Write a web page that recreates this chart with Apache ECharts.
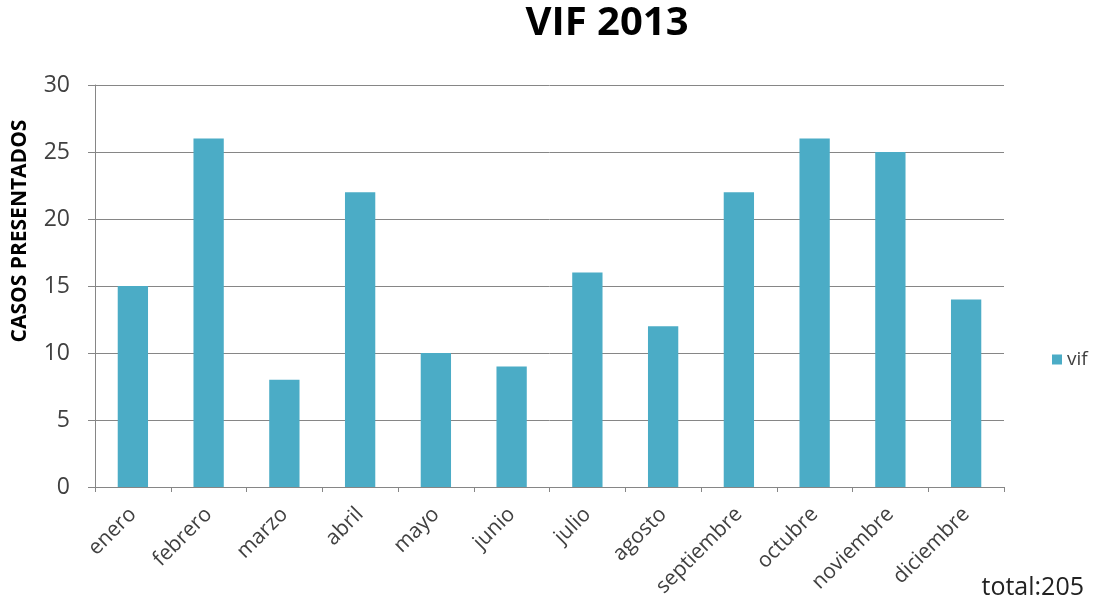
<!DOCTYPE html>
<html><head><meta charset="utf-8">
<script src="https://cdn.jsdelivr.net/npm/echarts@6/dist/echarts.min.js"></script>
<style>html,body{margin:0;padding:0;background:#fff}#c{width:1099px;height:609px}</style>
</head><body><div id="c"></div>
<script>
var categories = ['enero','febrero','marzo','abril','mayo','junio','julio','agosto','septiembre','octubre','noviembre','diciembre'];
var vifValues = [15,26,8,22,10,9,16,12,22,26,25,14];
var yTicks = [0,5,10,15,20,25,30];
var titleText = 'VIF 2013';
var yAxisTitle = 'CASOS PRESENTADOS';
var totalText = 'total:205';

var chart = echarts.init(document.getElementById('c'));
var font = '"Open Sans", "DejaVu Sans", sans-serif';
chart.setOption({
  animation: false,
  title: {text: titleText, left: 602, top: -1, textAlign: 'center',
    textStyle: {fontFamily: font, fontWeight: 'bold', fontSize: 40, color: '#000'}},
  legend: {data: ['vif'], left: 1052, top: 350, padding: 0, orient: 'vertical', icon: 'rect', itemWidth: 10, itemHeight: 10, itemGap: 4,
    textStyle: {fontFamily: font, fontSize: 19, color: '#404040'}},
  graphic: [
    {type: 'text', right: 15, bottom: 9, style: {text: totalText, fontFamily: font, fontSize: 25, fill: '#222'}},
    {type: 'text', x: 20, y: 231, rotation: Math.PI / 2,
      style: {text: yAxisTitle, fontFamily: font, fontWeight: 'bold', fontSize: 21, fill: '#000', align: 'center', verticalAlign: 'middle'}}
  ],
  grid: {left: 95, right: 95, top: 85, bottom: 122, containLabel: false},
  xAxis: {type: 'category', data: categories, boundaryGap: true,
    axisLine: {lineStyle: {color: '#868686'}},
    axisTick: {show: true, alignWithLabel: false, length: 5, lineStyle: {color: '#868686'}},
    axisLabel: {rotate: 45, fontFamily: font, fontSize: 21, color: '#404040', margin: 24, interval: 0}},
  yAxis: {type: 'value', min: 0, max: 30, interval: 5,
    axisLine: {show: true, lineStyle: {color: '#868686'}},
    axisTick: {show: true, length: 7, lineStyle: {color: '#868686'}},
    splitLine: {lineStyle: {color: '#868686'}},
    axisLabel: {fontFamily: font, fontSize: 23, color: '#404040', margin: 25}},
  series: [{name: 'vif', type: 'bar', data: vifValues, barWidth: '40%',
    itemStyle: {color: '#4BACC6'}}]
});
</script></body></html>
